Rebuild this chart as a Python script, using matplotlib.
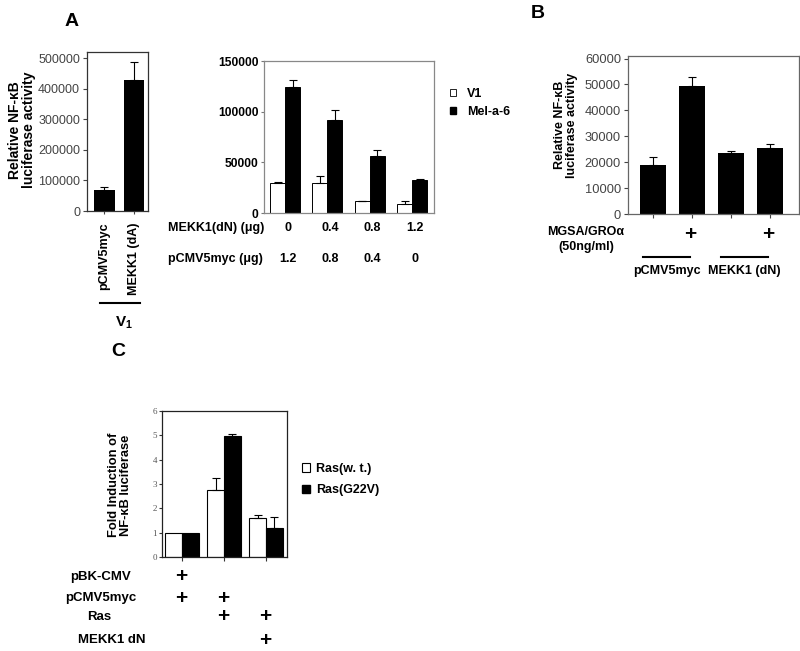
import numpy as np
import matplotlib
matplotlib.use("Agg")
import matplotlib.pyplot as plt
import matplotlib.transforms as mtransforms
from matplotlib.patches import Patch
from matplotlib.lines import Line2D

plt.rcParams['font.family'] = ['Liberation Sans', 'DejaVu Sans']
plt.rcParams['mathtext.fontset'] = 'custom'
plt.rcParams['mathtext.bf'] = 'Liberation Sans:bold'
plt.rcParams['mathtext.rm'] = 'Liberation Sans'

# Panel A, left
a1_labels = ["pCMV5myc", "MEKK1 (dA)"]
a1_values = [70000, 430000]
a1_err = [8000, 57000]

# Panel A, right
a2_mekk = ["0", "0.4", "0.8", "1.2"]
a2_pcmv = ["1.2", "0.8", "0.4", "0"]
a2_v1 = [30000, 30000, 11500, 9200]
a2_v1_err = [1000, 7000, 500, 2700]
a2_mel = [124000, 91500, 56000, 32500]
a2_mel_err = [7000, 10500, 6500, 1500]

# Panel B
b_values = [19000, 49500, 23500, 25500]
b_err = [2900, 3500, 800, 1700]
b_mgsa = ["", "+", "", "+"]
b_groups = ["pCMV5myc", "MEKK1 (dN)"]

# Panel C
c_wt = [1.0, 2.76, 1.6]
c_wt_err = [0, 0.5, 0.13]
c_g22v = [1.0, 4.98, 1.21]
c_g22v_err = [0, 0.09, 0.45]
c_rows = ["pBK-CMV", "pCMV5myc", "Ras", "MEKK1 dN"]
c_marks = [[1, 0, 0], [1, 1, 0], [0, 1, 1], [0, 0, 1]]

W, H = 800, 651
fig = plt.figure(figsize=(W / 100, H / 100), dpi=100)


def fx(px):
    return px / W


def fy(py):
    return 1 - py / H


def box(l, t, r, b):
    return fig.add_axes([fx(l), fy(b), (r - l) / W, (b - t) / H])


def errs(ax, x, y, e):
    x = np.asarray(x, float)
    y = np.asarray(y, float)
    e = np.asarray(e, float)
    m = e > 0
    ax.errorbar(x[m], y[m], yerr=[np.zeros(m.sum()), e[m]], fmt='none',
                ecolor='black', elinewidth=0.8, capsize=3, capthick=0.8)


def frame(ax, col):
    for s in ax.spines.values():
        s.set_color(col)
        s.set_linewidth(0.9)


# ---- A left
ax1 = box(87, 52, 148, 211)
x1 = np.arange(len(a1_values))
ax1.bar(x1, a1_values, width=0.69, color='black')
errs(ax1, x1, a1_values, a1_err)
ax1.set_xlim(-0.59, 1.47)
ax1.set_ylim(0, 520000)
ax1.set_yticks([0, 100000, 200000, 300000, 400000, 500000])
ax1.tick_params(axis='y', labelsize=9, labelcolor='#444', length=3, color='#444', pad=2)
ax1.set_xticks(x1)
ax1.set_xticklabels(a1_labels, rotation=90, fontsize=9, fontweight='bold', va='top')
ax1.tick_params(axis='x', length=2, color='#444', pad=6)
frame(ax1, '#333')
fig.text(fx(22), fy(130), "Relative NF-κB\nluciferase activity", rotation=90,
         ha='center', va='center', fontsize=10, fontweight='bold', linespacing=1.05)
fig.text(fx(72), fy(22), "A", fontsize=14, fontweight='bold', ha='center', va='center')
fig.add_artist(Line2D([fx(100), fx(140)], [fy(303), fy(303)], color='black', lw=1.5))
fig.text(fx(124), fy(323), r"$\mathbf{V_1}$", fontsize=11, ha='center', va='center')

# ---- A right
ax2 = box(264, 61, 434, 213)
x2 = np.arange(len(a2_v1))
bw = 0.355
ax2.bar(x2 - bw / 2, a2_v1, width=bw, color='white', edgecolor='black', linewidth=0.7)
ax2.bar(x2 + bw / 2, a2_mel, width=bw, color='black', edgecolor='black', linewidth=0.7)
errs(ax2, x2 - bw / 2, a2_v1, a2_v1_err)
errs(ax2, x2 + bw / 2, a2_mel, a2_mel_err)
ax2.set_xlim(-0.5, 3.52)
ax2.set_ylim(0, 150000)
ax2.set_yticks([0, 50000, 100000, 150000])
ax2.set_yticklabels(["0", "50000", "100000", "150000"], fontweight='bold')
ax2.tick_params(axis='y', labelsize=8.7, length=2, color='#777', pad=2)
ax2.set_xticks([])
frame(ax2, '#888')
tr2 = mtransforms.blended_transform_factory(ax2.transData, fig.transFigure)
for i in range(len(x2)):
    ax2.text(x2[i] + 0.07, fy(228), a2_mekk[i], transform=tr2, ha='center', va='center',
             fontsize=9, fontweight='bold')
    ax2.text(x2[i] + 0.07, fy(259), a2_pcmv[i], transform=tr2, ha='center', va='center',
             fontsize=9, fontweight='bold')
fig.text(fx(168), fy(228), "MEKK1(dN) (μg)", ha='left', va='center', fontsize=9, fontweight='bold')
fig.text(fx(168), fy(259), "pCMV5myc (μg)", ha='left', va='center', fontsize=9, fontweight='bold')
fig.legend(handles=[Patch(facecolor='white', edgecolor='black', linewidth=0.6, label='V1'),
                    Patch(facecolor='black', edgecolor='black', label='Mel-a-6')],
           loc='upper left', bbox_to_anchor=(fx(450), fy(88)), frameon=False,
           handlelength=0.45, handleheight=0.45, handletextpad=0.9, labelspacing=0.45,
           borderaxespad=0, borderpad=0, prop={'size': 9, 'weight': 'bold'})

# ---- B
ax3 = box(628, 56, 799, 214)
x3 = np.arange(len(b_values))
ax3.bar(x3, b_values, width=0.67, color='black')
errs(ax3, x3, b_values, b_err)
ax3.set_xlim(-0.64, 3.74)
ax3.set_ylim(0, 61000)
ax3.set_yticks(np.arange(0, 60001, 10000))
ax3.tick_params(axis='y', labelsize=9.3, labelcolor='#444', length=3, color='#444', pad=2)
ax3.set_xticks(x3)
ax3.set_xticklabels([])
ax3.tick_params(axis='x', length=3, color='#444')
frame(ax3, '#666')
tr3 = mtransforms.blended_transform_factory(ax3.transData, fig.transFigure)
for i in range(len(x3)):
    ax3.text(x3[i] - 0.05, fy(234), b_mgsa[i], transform=tr3, ha='center', va='center',
             fontsize=15, fontweight='bold')
for g in range(2):
    xa, xb = x3[2 * g] - 0.25, x3[2 * g + 1] - 0.05
    ax3.add_artist(Line2D([xa, xb], [fy(257), fy(257)], transform=tr3, color='black', lw=1.5,
                          clip_on=False))
    ax3.text((xa + xb) / 2, fy(271), b_groups[g], transform=tr3, ha='center', va='center',
             fontsize=9, fontweight='bold')
fig.text(fx(586), fy(232), "MGSA/GROα", ha='center', va='center', fontsize=9, fontweight='bold')
fig.text(fx(586), fy(247), "(50ng/ml)", ha='center', va='center', fontsize=9, fontweight='bold')
fig.text(fx(566), fy(125), "Relative NF-κB\nluciferase activity", rotation=90,
         ha='center', va='center', fontsize=9, fontweight='bold', linespacing=1.1)
fig.text(fx(538), fy(13), "B", fontsize=14, fontweight='bold', ha='center', va='center')

# ---- C
ax4 = box(162, 411, 287, 557)
x4 = np.arange(len(c_wt))
cw = 0.4
ax4.bar(x4 - cw / 2, c_wt, width=cw, color='white', edgecolor='black', linewidth=0.8)
ax4.bar(x4 + cw / 2, c_g22v, width=cw, color='black', edgecolor='black', linewidth=0.8)
errs(ax4, x4 - cw / 2, c_wt, c_wt_err)
errs(ax4, x4 + cw / 2, c_g22v, c_g22v_err)
ax4.set_xlim(-0.48, 2.5)
ax4.set_ylim(0, 6)
ax4.set_yticks(range(7))
for t in ax4.get_yticklabels():
    t.set_family('Liberation Serif')
ax4.tick_params(axis='y', labelsize=6.5, labelcolor='#555', length=2.5, color='#333', pad=1)
ax4.set_xticks(x4)
ax4.set_xticklabels([])
ax4.tick_params(axis='x', length=3, color='#333')
frame(ax4, '#222')
tr4 = mtransforms.blended_transform_factory(ax4.transData, fig.transFigure)
row_y = [577, 598, 617, 640]
row_x = [101, 101, 99, 112]
for r in range(len(c_rows)):
    fig.text(fx(row_x[r]), fy(row_y[r]), c_rows[r], ha='center', va='center',
             fontsize=9.5, fontweight='bold')
    for i in range(len(x4)):
        if c_marks[r][i]:
            ax4.text(x4[i] - 0.03, fy(row_y[r]), "+", transform=tr4, ha='center', va='center',
                     fontsize=15, fontweight='bold')
fig.text(fx(120), fy(485), "Fold Induction of\nNF-κB luciferase", rotation=90,
         ha='center', va='center', fontsize=9.3, fontweight='bold', linespacing=1.1)
fig.text(fx(118), fy(352), "C", fontsize=14, fontweight='bold', ha='center', va='center')
fig.legend(handles=[Patch(facecolor='white', edgecolor='black', linewidth=0.8, label='Ras(w. t.)'),
                    Patch(facecolor='black', edgecolor='black', label='Ras(G22V)')],
           loc='upper left', bbox_to_anchor=(fx(302), fy(463)), frameon=False,
           handlelength=0.65, handleheight=0.65, handletextpad=0.5, labelspacing=0.75,
           borderaxespad=0, borderpad=0, prop={'size': 9, 'weight': 'bold'})

fig.savefig("out.png", dpi=100)
